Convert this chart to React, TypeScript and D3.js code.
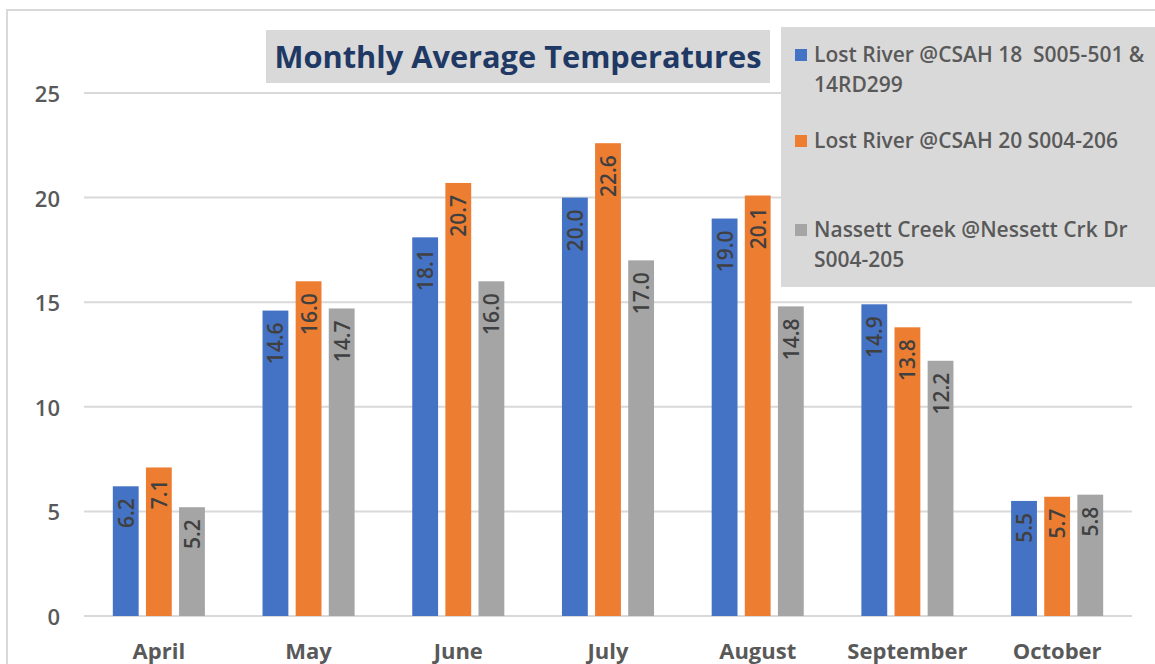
import * as d3 from "d3";

const months = ["April", "May", "June", "July", "August", "September", "October"];
const seriesNames = [
  ["Lost River @CSAH 18  S005-501 &", "14RD299"],
  ["Lost River @CSAH 20 S004-206"],
  ["Nassett Creek @Nessett Crk Dr", "S004-205"],
];
const seriesColors = ["#4472C4", "#ED7D31", "#A5A5A5"];
const lostRiver18 = [6.2, 14.6, 18.1, 20.0, 19.0, 14.9, 5.5];
const lostRiver20 = [7.1, 16.0, 20.7, 22.6, 20.1, 13.8, 5.7];
const nassettCreek = [5.2, 14.7, 16.0, 17.0, 14.8, 12.2, 5.8];
const yTicks = [0, 5, 10, 15, 20, 25];

const allSeries = [lostRiver18, lostRiver20, nassettCreek];

export default function App() {
  const width = 1155;
  const height = 664;
  const plotLeft = 84;
  const plotRight = 1132;
  const plotTop = 93;
  const plotBottom = 616;
  const font = "'Open Sans', 'DejaVu Sans', sans-serif";

  const x = d3
    .scaleBand()
    .domain(months)
    .range([plotLeft, plotRight])
    .paddingInner(0.385)
    .paddingOuter(0.1925);

  const xInner = d3
    .scaleBand<number>()
    .domain([0, 1, 2])
    .range([0, x.bandwidth()])
    .paddingInner(0.22)
    .paddingOuter(0);

  const y = d3.scaleLinear().domain([0, 25]).range([plotBottom, plotTop]);

  return (
    <svg
      width={width}
      height={height}
      style={{ position: "absolute", left: 0, top: 0, background: "#fff" }}
    >
      {/* frame */}
      <rect x={7} y={10} width={1200} height={700} fill="#fff" stroke="#D9D9D9" strokeWidth={2} />

      {/* grid + y labels */}
      {yTicks.map((t) => (
        <g key={t}>
          <line x1={plotLeft} x2={plotRight} y1={y(t)} y2={y(t)} stroke="#D9D9D9" strokeWidth={2} />
          <text
            x={60}
            y={y(t)}
            textAnchor="end"
            dominantBaseline="central"
            fontFamily={font}
            fontSize={22}
            fontWeight={600}
            fill="#595959"
          >
            {t}
          </text>
        </g>
      ))}

      {/* bars */}
      {months.map((m, i) => (
        <g key={m} transform={`translate(${x(m)},0)`}>
          {allSeries.map((s, j) => {
            const bx = xInner(j) as number;
            const bw = xInner.bandwidth();
            const top = y(s[i]);
            return (
              <g key={j}>
                <rect x={bx} y={top} width={bw} height={plotBottom - top} fill={seriesColors[j]} />
                <text
                  transform={`translate(${bx + bw / 2},${top + 12}) rotate(-90)`}
                  textAnchor="end"
                  dominantBaseline="central"
                  fontFamily={font}
                  fontSize={21}
                  fontWeight={600}
                  fill="#404040"
                >
                  {s[i].toFixed(1)}
                </text>
              </g>
            );
          })}
        </g>
      ))}

      {/* x labels */}
      {months.map((m) => (
        <text
          key={m}
          x={(x(m) as number) + x.bandwidth() / 2}
          y={659}
          textAnchor="middle"
          fontFamily={font}
          fontSize={22}
          fontWeight={700}
          fill="#595959"
        >
          {m}
        </text>
      ))}

      {/* title */}
      <rect x={266} y={30} width={504} height={53} fill="#D9D9D9" />
      <text
        x={518}
        y={68}
        textAnchor="middle"
        fontFamily={font}
        fontSize={31}
        fontWeight={700}
        fill="#203864"
        textLength={487}
        lengthAdjust="spacingAndGlyphs"
      >
        Monthly Average Temperatures
      </text>

      {/* legend */}
      <rect x={781} y={27} width={400} height={260} fill="#D9D9D9" />
      {seriesNames.map((lines, j) => {
        const baseY = [62, 148, 237][j];
        return (
          <g key={j}>
            <rect x={795} y={baseY - 13} width={12} height={12} fill={seriesColors[j]} />
            {lines.map((l, k) => (
              <text
                key={k}
                x={814}
                y={baseY + k * 30}
                fontFamily={font}
                fontSize={21}
                fontWeight={600}
                fill="#595959"
                style={{ whiteSpace: "pre" }}
              >
                {l}
              </text>
            ))}
          </g>
        );
      })}
    </svg>
  );
}
